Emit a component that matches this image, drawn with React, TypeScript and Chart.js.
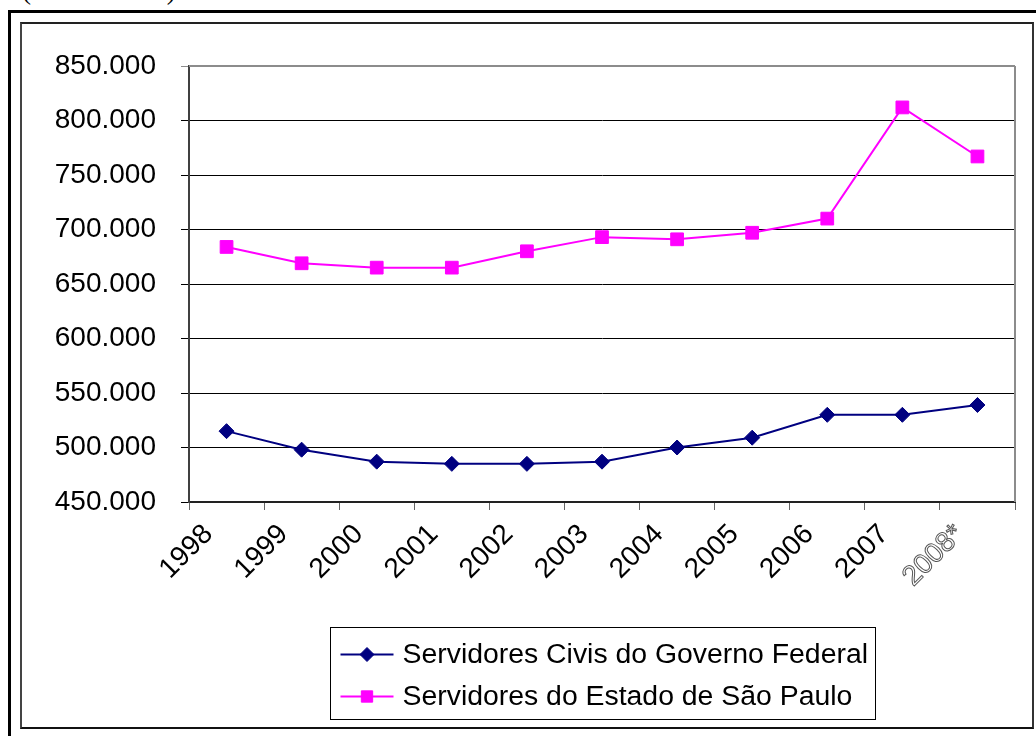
import React, { useEffect, useRef } from 'react';
import { Chart, registerables } from 'chart.js';
import { drawPoint } from 'chart.js/helpers';

Chart.register(...registerables);

// ---- data ----
const years = ['1998', '1999', '2000', '2001', '2002', '2003', '2004', '2005', '2006', '2007', '2008*'];
const federal = [515000, 498000, 487000, 485000, 485000, 487000, 500000, 509000, 530000, 530000, 539000];
const saoPaulo = [684000, 669000, 665000, 665000, 680000, 693000, 691000, 697000, 710000, 812000, 767000];
const seriesLabels = ['Servidores Civis do Governo Federal', 'Servidores do Estado de São Paulo'];
const yMin = 450000;
const yMax = 850000;
const yStep = 50000;
const captionText = '(em unidades)';

const FONT = '"Liberation Sans", Arial, sans-serif';

const fmtThousands = (v: number) => {
  const s = Math.round(v).toString();
  return s.replace(/\B(?=(\d{3})+(?!\d))/g, '.');
};

const plotBorder = {
  id: 'plotBorder',
  beforeDatasetsDraw(chart: any) {
    const { ctx, chartArea: ca } = chart;
    ctx.save();
    ctx.strokeStyle = '#8c8c8c';
    ctx.lineWidth = 2;
    ctx.beginPath();
    ctx.moveTo(ca.left, ca.top);
    ctx.lineTo(ca.right, ca.top);
    ctx.moveTo(ca.right, ca.top);
    ctx.lineTo(ca.right, ca.bottom);
    ctx.stroke();
    ctx.restore();
  },
};

const boxLegend = {
  id: 'boxLegend',
  afterDraw(chart: any) {
    const { ctx, chartArea: ca } = chart;
    const w = 545;
    const h = 92;
    const cx = (ca.left + ca.right) / 2;
    const left = Math.round(cx - w / 2) + 0.5;
    const top = 603.5;
    ctx.save();
    ctx.fillStyle = '#fff';
    ctx.fillRect(left, top, w, h);
    ctx.strokeStyle = '#000';
    ctx.lineWidth = 1;
    ctx.strokeRect(left, top, w, h);
    chart.data.datasets.forEach((ds: any, i: number) => {
      const y = top + 27 + i * 42;
      ctx.strokeStyle = ds.borderColor;
      ctx.lineWidth = 2;
      ctx.beginPath();
      ctx.moveTo(left + 10, y);
      ctx.lineTo(left + 63, y);
      ctx.stroke();
      ctx.fillStyle = ds.backgroundColor;
      ctx.strokeStyle = ds.borderColor;
      ctx.lineWidth = 1;
      drawPoint(ctx, { pointStyle: ds.pointStyle, radius: ds.pointStyle === 'rect' ? 8 : 7, borderWidth: 1, rotation: 0 } as any, left + 36.5, y);
      ctx.fillStyle = '#000';
      ctx.font = `28.4px ${FONT}`;
      ctx.textAlign = 'left';
      ctx.textBaseline = 'middle';
      ctx.fillText(ds.label, left + 72, y + 1);
    });
    ctx.restore();
  },
};

export default function App() {
  const ref = useRef<HTMLCanvasElement | null>(null);

  useEffect(() => {
    if (!ref.current) return;
    const chart = new Chart(ref.current, {
      type: 'line',
      data: {
        labels: years,
        datasets: [
          {
            label: seriesLabels[0],
            data: federal,
            borderColor: '#000080',
            backgroundColor: '#000080',
            borderWidth: 2,
            pointStyle: 'rectRot',
            pointRadius: 7.5,
            pointBorderWidth: 1,
            tension: 0,
          },
          {
            label: seriesLabels[1],
            data: saoPaulo,
            borderColor: '#FF00FF',
            backgroundColor: '#FF00FF',
            borderWidth: 2,
            pointStyle: 'rect',
            pointRadius: 9,
            pointBorderWidth: 1,
            tension: 0,
          },
        ],
      },
      options: {
        animation: false,
        responsive: false,
        maintainAspectRatio: false,
        devicePixelRatio: 1,
        layout: { padding: { top: 42, right: 17, left: 0, bottom: 0 } },
        plugins: {
          legend: { display: false },
          tooltip: { enabled: false },
          title: { display: false },
        },
        scales: {
          x: {
            type: 'category',
            offset: true,
            grid: {
              offset: true,
              drawOnChartArea: false,
              drawTicks: true,
              tickLength: 8,
              color: '#666',
              lineWidth: 1,
            },
            border: { display: true, color: '#222', width: 2 },
            ticks: {
              autoSkip: false,
              minRotation: 45,
              maxRotation: 45,
              padding: 8,
              labelOffset: -18,
              font: { family: FONT, size: 28 },
              color: (c: any) => (c.index === 10 ? 'rgba(0,0,0,0)' : '#000'),
              textStrokeColor: '#555',
              textStrokeWidth: (c: any) => (c.index === 10 ? 1 : 0),
            },
            afterFit: (s: any) => {
              s.height = 225;
            },
          },
          y: {
            min: yMin,
            max: yMax,
            ticks: {
              stepSize: yStep,
              padding: 25,
              color: '#000',
              font: { family: FONT, size: 28 },
              callback: (v: any) => fmtThousands(Number(v)),
            },
            grid: {
              color: (c: any) => (c.tick && c.tick.value === yMax ? '#8c8c8c' : '#000'),
              lineWidth: 1,
              drawTicks: true,
              tickLength: 8,
            },
            border: { display: true, color: '#404040', width: 2 },
            afterFit: (s: any) => {
              s.width = 167;
            },
          },
        },
      },
      plugins: [plotBorder, boxLegend],
    } as any);
    return () => chart.destroy();
  }, []);

  return (
    <div
      style={{
        position: 'fixed',
        left: 0,
        top: 0,
        width: 1036,
        height: 736,
        background: '#fff',
        overflow: 'hidden',
      }}
    >
      <div
        style={{
          position: 'absolute',
          left: 22,
          top: -25,
          font: '27px "Liberation Serif", "Times New Roman", serif',
          lineHeight: '30px',
          whiteSpace: 'nowrap',
          color: '#000',
        }}
      >
        {captionText}
      </div>
      <div
        style={{
          position: 'absolute',
          left: 8,
          top: 10,
          width: 1200,
          height: 900,
          borderLeft: '3px solid #000',
          borderTop: '3px solid #000',
        }}
      />
      <div
        style={{
          position: 'absolute',
          left: 20,
          top: 22,
          width: 1014,
          height: 707,
          boxSizing: 'border-box',
          borderTop: '2px solid #222',
          borderLeft: '2px solid #444',
          borderRight: '2px solid #333',
          borderBottom: '2px solid #111',
        }}
      />
      <div style={{ position: 'absolute', left: 22, top: 24, width: 1010, height: 703 }}>
        <canvas ref={ref} width={1010} height={703} style={{ width: 1010, height: 703, display: 'block' }} />
      </div>
    </div>
  );
}
